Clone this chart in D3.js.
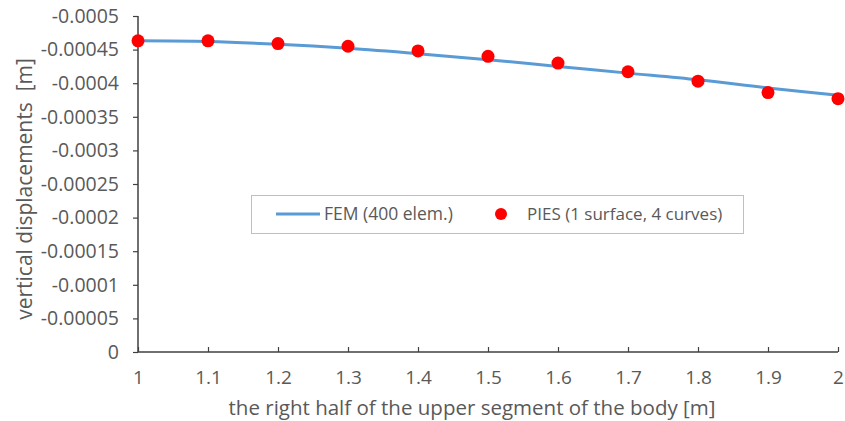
<!DOCTYPE html>
<html>
<head>
<meta charset="utf-8">
<script src="https://cdn.jsdelivr.net/npm/d3@7"></script>
<style>
  body { margin: 0; background: #fff; }
  text { font-family: "Open Sans", Lato, sans-serif; fill: #595959; }
</style>
</head>
<body>
<div id="chart"></div>
<script>
// data
const xValues = [1, 1.1, 1.2, 1.3, 1.4, 1.5, 1.6, 1.7, 1.8, 1.9, 2];
const femValues = [-0.000463, -0.000462, -0.000458, -0.000452, -0.000444, -0.000435, -0.000425, -0.000415, -0.000405, -0.000393, -0.000382];
const piesValues = [-0.000463, -0.000463, -0.000459, -0.000455, -0.000448, -0.000440, -0.000430, -0.000417, -0.000403, -0.000386, -0.000377];
const yTicks = [0, -0.00005, -0.0001, -0.00015, -0.0002, -0.00025, -0.0003, -0.00035, -0.0004, -0.00045, -0.0005];
const yTickLabels = ["0", "-0.00005", "-0.0001", "-0.00015", "-0.0002", "-0.00025", "-0.0003", "-0.00035", "-0.0004", "-0.00045", "-0.0005"];
const xTickLabels = ["1", "1.1", "1.2", "1.3", "1.4", "1.5", "1.6", "1.7", "1.8", "1.9", "2"];
const seriesNames = ["FEM (400 elem.)", "PIES (1 surface, 4 curves)"];

const width = 845, height = 421;
const margin = { top: 16, right: 7, bottom: 69, left: 138 };

const svg = d3.select("#chart").append("svg").attr("width", width).attr("height", height);

const x = d3.scaleLinear().domain([1, 2]).range([margin.left, width - margin.right]);
const y = d3.scaleLinear().domain([0, -0.0005]).range([height - margin.bottom, margin.top]);

// y axis
const yAxis = svg.append("g").attr("transform", "translate(" + margin.left + ",0)")
    .call(d3.axisLeft(y).tickValues(yTicks).tickSize(5).tickPadding(14)
        .tickFormat(function (d, i) { return yTickLabels[i]; }));
yAxis.select(".domain").attr("stroke", "#404040").attr("stroke-width", 1.5).attr("d", "M0," + y(-0.0005) + "V" + y(0));
yAxis.selectAll(".tick line").attr("stroke", "#404040").attr("stroke-width", 1.2);
yAxis.selectAll("text").style("font-size", "19.5px").attr("fill", "#595959");

// x axis
const xAxis = svg.append("g").attr("transform", "translate(0," + y(0) + ")")
    .call(d3.axisBottom(x).tickValues(xValues).tickSize(-5).tickPadding(19)
        .tickFormat(function (d, i) { return xTickLabels[i]; }));
xAxis.select(".domain").attr("stroke", "#404040").attr("stroke-width", 1.5).attr("d", "M" + x(1) + ",0H" + x(2));
xAxis.selectAll(".tick line").attr("stroke", "#404040").attr("stroke-width", 1.2);
xAxis.selectAll("text").style("font-size", "19px").attr("fill", "#595959");

// axis titles
svg.append("text").attr("x", 472).attr("y", 415).attr("text-anchor", "middle")
    .style("font-size", "20.5px").text("the right half of the upper segment of the body [m]");
svg.append("text").attr("transform", "translate(32,189) rotate(-90)")
    .attr("text-anchor", "middle").style("font-size", "21px").style("white-space", "pre")
    .text("vertical displacements  [m]");

// FEM line
const line = d3.line().x(function (d, i) { return x(xValues[i]); }).y(function (d) { return y(d); })
    .curve(d3.curveCatmullRom);
svg.append("path").datum(femValues).attr("d", line)
    .attr("fill", "none").attr("stroke", "#5B9BD5").attr("stroke-width", 3);

// PIES points
svg.selectAll("circle.pies").data(piesValues).enter().append("circle").attr("class", "pies")
    .attr("cx", function (d, i) { return x(xValues[i]); })
    .attr("cy", function (d) { return y(d); })
    .attr("r", 6.5).attr("fill", "#FF0000");

// legend
const legend = svg.append("g");
legend.append("rect").attr("x", 251.5).attr("y", 195.5).attr("width", 492).attr("height", 38)
    .attr("fill", "#fff").attr("stroke", "#BFBFBF").attr("stroke-width", 1);
legend.append("line").attr("x1", 276).attr("x2", 320).attr("y1", 214).attr("y2", 214)
    .attr("stroke", "#5B9BD5").attr("stroke-width", 3);
legend.append("text").attr("x", 324).attr("y", 220).style("font-size", "17.5px").text(seriesNames[0]);
legend.append("circle").attr("cx", 501).attr("cy", 214).attr("r", 6).attr("fill", "#FF0000");
legend.append("text").attr("x", 527).attr("y", 220).style("font-size", "17px").text(seriesNames[1]);
</script>
</body>
</html>
